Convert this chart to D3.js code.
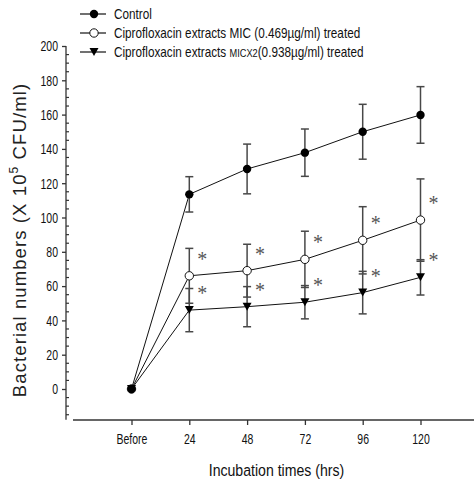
<!DOCTYPE html>
<html>
<head>
<meta charset="utf-8">
<script src="https://cdn.jsdelivr.net/npm/d3@7"></script>
<style>
  body { margin: 0; background: #fff; }
  text { font-family: "Liberation Sans", Arial, sans-serif; fill: #111; }
</style>
</head>
<body>
<div id="chart"></div>
<script>
const width = 474, height = 481;

// x categories (incubation time)
const categories = ["Before", "24", "48", "72", "96", "120"];

// mean values
const control   = [0, 113.5, 128.3, 137.8, 150.0, 159.8];
const controlSd = [0, 10.3, 14.5, 13.8, 16.0, 16.5];
const mic       = [0, 66.0, 69.0, 75.6, 86.7, 98.5];
const micSd     = [0, 16.0, 15.4, 16.4, 19.6, 24.0];
const micx2     = [0, 46.0, 48.0, 50.6, 56.2, 65.1];
const micx2Sd   = [0, 12.6, 11.7, 9.7, 12.4, 10.3];
// significance star shown next to point
const starred   = [false, true, true, true, true, true];

const yTicks = [0, 20, 40, 60, 80, 100, 120, 140, 160, 180, 200];

const svg = d3.select('#chart')
    .append('svg')
      .attr('width', width)
      .attr('height', height);

const x = d3.scalePoint().domain(categories).range([131.5, 420.5]);
const y = d3.scaleLinear().domain([0, 200]).range([389, 46]);
const yMin = -18;

// the original uses a narrow font; squeeze text horizontally
const narrow = 0.7;

// y axis: major ticks on the left, minor ticks on the right
const yAxis = d3.axisLeft(y).tickValues(yTicks).tickSize(4).tickPadding(5);
const gy = svg.append('g').attr('transform', 'translate(66,0)').call(yAxis);
gy.select('.domain').remove();
gy.append('line')
    .attr('y1', y(200)).attr('y2', y(yMin))
    .attr('stroke', '#333').attr('stroke-width', 1.3);
gy.selectAll('.tick line').attr('stroke', '#333').attr('stroke-width', 1.3);
gy.selectAll('.tick text')
    .attr('font-size', 15).attr('fill', '#111')
    .attr('transform', `translate(-8,0) scale(${narrow},1)`)
    .attr('x', 0)
    .style('font-family', '"Liberation Sans", Arial, sans-serif');
const minor = d3.range(-15, 200, 5).filter(v => v % 20 !== 0);
gy.selectAll('.minor').data(minor).enter().append('line')
    .attr('class', 'minor')
    .attr('x1', 0).attr('x2', 3)
    .attr('y1', d => y(d)).attr('y2', d => y(d))
    .attr('stroke', '#333').attr('stroke-width', 1.2);

// x axis
const xAxis = d3.axisBottom(x).tickSize(5).tickPadding(8);
const gx = svg.append('g').attr('transform', 'translate(0,420)').call(xAxis);
gx.select('.domain').remove();
gx.append('line').attr('x1', 73).attr('x2', width)
    .attr('stroke', '#333').attr('stroke-width', 1.3);
gx.selectAll('.tick line').attr('stroke', '#333').attr('stroke-width', 1.3);
gx.selectAll('.tick text')
    .attr('font-size', 15).attr('fill', '#111')
    .attr('transform', `scale(${narrow},1)`)
    .style('font-family', '"Liberation Sans", Arial, sans-serif');

// axis titles
svg.append('text')
    .attr('transform', 'translate(276.5,476) scale(0.83,1)')
    .attr('text-anchor', 'middle')
    .attr('font-size', 17)
    .text('Incubation times (hrs)');

const yt = svg.append('text')
    .attr('transform', 'translate(26,240) rotate(-90)')
    .attr('text-anchor', 'middle')
    .attr('font-size', 18.5)
    .attr('letter-spacing', 1.1)
    .style('fill', '#222');
yt.append('tspan').text('Bacterial numbers (X 10');
yt.append('tspan').attr('font-size', 12).attr('dy', -8).text('5');
yt.append('tspan').attr('dy', 8).text(' CFU/ml)');

const series = [
    { name: 'control', values: control, sd: controlSd, marker: 'filled' },
    { name: 'mic', values: mic, sd: micSd, marker: 'open' },
    { name: 'micx2', values: micx2, sd: micx2Sd, marker: 'tri' }
];

const line = d3.line()
    .x((d, i) => x(categories[i]))
    .y(d => y(d));

// connecting lines
series.forEach(s => {
    svg.append('path')
        .datum(s.values)
        .attr('d', line)
        .attr('fill', 'none')
        .attr('stroke', '#111')
        .attr('stroke-width', 1);
});

// error bars
series.forEach(s => {
    const g = svg.append('g').attr('class', 'err-' + s.name)
        .attr('stroke', '#484848').attr('stroke-width', 1.5);
    s.values.forEach((v, i) => {
        if (!s.sd[i]) return;
        const cx = x(categories[i]);
        const top = y(v + s.sd[i]), bot = y(v - s.sd[i]);
        g.append('line').attr('x1', cx).attr('x2', cx).attr('y1', top).attr('y2', bot);
        g.append('line').attr('x1', cx - 4).attr('x2', cx + 4).attr('y1', top).attr('y2', top);
        g.append('line').attr('x1', cx - 4).attr('x2', cx + 4).attr('y1', bot).attr('y2', bot);
    });
});

function drawMarker(g, type, cx, cy) {
    if (type === 'filled') {
        g.append('circle').attr('cx', cx).attr('cy', cy).attr('r', 4.2).attr('fill', '#000');
    } else if (type === 'open') {
        g.append('circle').attr('cx', cx).attr('cy', cy).attr('r', 4.2)
            .attr('fill', '#fff').attr('stroke', '#111').attr('stroke-width', 1);
    } else {
        g.append('path')
            .attr('d', `M${cx - 4.5},${cy - 4} L${cx + 4.5},${cy - 4} L${cx},${cy + 4} Z`)
            .attr('fill', '#000');
    }
}

// markers (open circles first so the shared "Before" point looks solid)
[series[1], series[0], series[2]].forEach(s => {
    const g = svg.append('g').attr('class', 'pts-' + s.name);
    s.values.forEach((v, i) => drawMarker(g, s.marker, x(categories[i]), y(v)));
});

// significance stars
[mic, micx2].forEach(vals => {
    svg.append('g').selectAll('text')
        .data(vals.map((v, i) => ({ v, i })).filter(d => starred[d.i]))
        .enter().append('text')
        .attr('x', d => x(categories[d.i]) + 13)
        .attr('y', d => y(d.v) - 10)
        .attr('text-anchor', 'middle')
        .attr('font-size', 20)
        .style('font-family', '"Liberation Serif", "Times New Roman", serif')
        .style('fill', '#555')
        .text('*');
});

// legend
const legendItems = [
    { marker: 'filled', parts: [['Control', 14]] },
    { marker: 'open', parts: [['Ciprofloxacin extracts MIC (0.469\u00b5g/ml) treated', 14]] },
    { marker: 'tri', parts: [['Ciprofloxacin extracts ', 14], ['MICX2', 11], ['(0.938\u00b5g/ml) treated', 14]] }
];
const legend = svg.append('g').attr('class', 'legend');
legendItems.forEach((item, k) => {
    const ly = 14 + k * 19;
    legend.append('line').attr('x1', 80).attr('x2', 106).attr('y1', ly).attr('y2', ly)
        .attr('stroke', '#111').attr('stroke-width', 1.2);
    drawMarker(legend, item.marker, 94, ly);
    const t = legend.append('text')
        .attr('transform', `translate(114,${ly + 5}) scale(0.84,1)`)
        .attr('font-size', 14);
    item.parts.forEach(p => t.append('tspan').attr('font-size', p[1]).text(p[0]));
});
</script>
</body>
</html>
